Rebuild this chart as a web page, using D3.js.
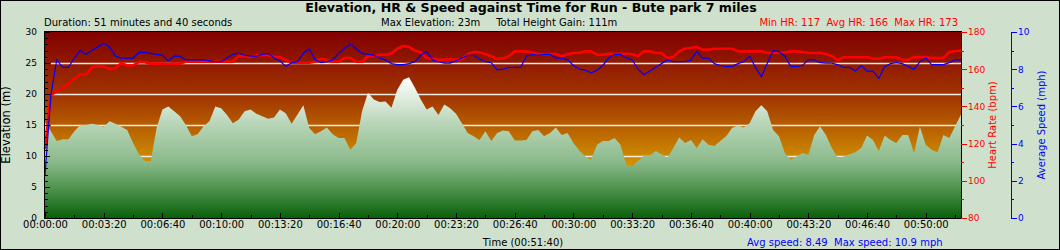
<!DOCTYPE html>
<html>
<head>
<meta charset="utf-8">
<script src="https://cdn.jsdelivr.net/npm/d3@7"></script>
<style>
  body { margin: 0; background: #cfe0cc; }
  svg { display: block; font-family: "DejaVu Sans", Verdana, sans-serif; }
</style>
</head>
<body>
<div id="chart"></div>
<script>
// one reading every 20 seconds
const sampleSeconds = 20;

const elevation = [
  15.5, 14.0, 12.4, 12.7, 12.7, 14.0, 15.0, 15.0, 15.2, 15.0,
  14.7, 15.6, 15.2, 14.7, 14.2, 12.1, 10.3, 9.2, 9.1, 14.5,
  17.5, 18.0, 17.2, 16.4, 15.0, 13.2, 13.5, 14.8, 15.6, 18.0,
  17.7, 16.6, 15.3, 15.9, 17.2, 17.5, 16.8, 16.4, 16.0, 16.2,
  17.5, 16.9, 15.2, 16.7, 18.2, 14.5, 13.5, 14.0, 14.6, 13.5,
  12.9, 12.9, 11.0, 12.1, 17.2, 20.2, 19.1, 18.7, 18.8, 17.8,
  20.7, 22.3, 22.7, 21.0, 19.1, 17.5, 18.0, 16.6, 18.3, 17.7,
  16.8, 15.3, 13.7, 13.2, 12.6, 14.0, 12.4, 13.7, 14.1,
  14.0, 12.5, 12.5, 12.6, 14.0, 14.2, 13.2, 13.7, 14.6, 13.4,
  13.7, 12.1, 10.9, 9.9, 9.4, 11.8, 12.4, 12.4, 12.9, 11.8,
  8.6, 8.3, 9.2, 10.1, 10.1, 10.8, 10.3, 9.7, 11.3, 13.0,
  12.1, 12.6, 11.3, 12.7, 11.8, 11.6, 12.4, 13.2, 14.5, 14.9,
  14.6, 15.3, 17.2, 18.2, 17.2, 14.2, 13.2, 10.5, 9.4, 9.9,
  10.5, 10.2, 13.4, 14.8, 13.4, 11.3, 9.7, 9.9, 10.3, 10.6,
  11.3, 13.3, 12.6, 10.8, 13.3, 12.6, 12.1, 13.4, 13.4, 10.5,
  14.7, 11.8, 11.0, 10.6, 13.4, 12.9, 14.8, 16.7
];

const heartRate = [
  117, 146, 148, 150, 152, 155, 157, 157, 161, 161.5,
  161.5, 160, 160.5, 163.3, 162, 162, 163.8, 163.8, 163, 163,
  163, 162.8, 163, 163, 164, 164, 164, 164, 164, 164,
  164, 164, 164, 167, 167, 166.5, 167.5, 167.5, 167.5, 166.5,
  166.5, 165, 163.5, 163.5, 163.5, 163.5, 164, 165.6, 165, 164,
  164, 166, 166, 164, 164, 167, 167, 167.8, 167.8, 168.5,
  171, 172.5, 172, 170, 169, 166, 165.5, 165, 165, 165.5,
  165, 165.5, 168.2, 169.2, 169, 168.2, 167, 165.5, 165.8,
  167, 169.6, 169.6, 169.6, 169, 168.2, 168.2, 168.2, 168.2, 167,
  168, 168.7, 168.7, 169.6, 169.6, 167.8, 167.8, 168.3, 168.3, 168.3,
  168.3, 168, 167, 169.6, 169.6, 168.7, 168.7, 166, 166.5, 169.6,
  171, 171.4, 172, 170.5, 170.5, 171, 171, 171, 171, 169.6,
  169.6, 169.6, 169.6, 169.6, 168.7, 168.7, 169, 169, 169.6, 169.6,
  169.2, 168.7, 168.7, 168.7, 168.2, 167, 164.8, 166.4, 166.4, 166.4,
  166.4, 166.4, 165.6, 165.6, 166.4, 166.4, 166.4, 165, 165, 166.5,
  166.5, 166.5, 166, 166, 166, 169.2, 169.8, 169.8
];

const speed = [
  2.3, 6.6, 8.5, 8.1, 8.1, 8.6, 9.0, 8.8, 9.0, 9.2,
  9.4, 9.2, 8.7, 8.6, 8.6, 8.6, 8.9, 8.9, 8.85, 8.8,
  8.75, 8.45, 8.7, 8.7, 8.5, 8.5, 8.5, 8.5, 8.45, 8.4,
  8.4, 8.6, 8.8, 8.87, 8.75, 8.7, 8.7, 8.8, 8.85, 8.6,
  8.45, 8.15, 8.35, 8.4, 8.85, 9.1, 8.5, 8.35, 8.4, 8.5,
  8.85, 9.1, 9.35, 9.1, 8.85, 8.8, 8.75, 8.6, 8.5, 8.3,
  8.25, 8.25, 8.3, 8.4, 8.75, 8.95, 8.5, 8.4, 8.33, 8.33,
  8.45, 8.6, 8.75, 8.75, 8.55, 8.4, 8.35, 7.97, 8.0,
  8.1, 8.1, 8.1, 8.7, 8.8, 8.75, 8.8, 8.8, 8.6, 8.6,
  8.5, 8.2, 8.0, 7.95, 7.8, 7.95, 8.2, 8.6, 8.8, 8.8,
  8.6, 8.5, 8.0, 7.7, 7.9, 8.1, 8.3, 8.5, 8.4, 8.4,
  8.4, 8.5, 8.95, 8.6, 8.6, 8.3, 8.2, 8.15, 8.15, 8.3,
  8.4, 8.7, 8.1, 7.6, 8.3, 9.0, 8.95, 8.7, 8.15, 8.15,
  8.2, 8.5, 8.5, 8.35, 8.33, 8.33, 8.25, 8.1, 8.1, 7.9,
  8.2, 7.9, 7.9, 7.5, 8.15, 8.3, 8.35, 8.3, 8.15, 8.0,
  8.4, 8.6, 8.25, 8.25, 8.25, 8.35, 8.5, 8.5
];

const timeTicks = d3.range(0, 3001, 200);
const timeMinorTicks = d3.range(100, 3101, 200);
const elevationTicks = [0, 5, 10, 15, 20, 25, 30];
const heartRateTicks = [80, 100, 120, 140, 160, 180];
const speedTicks = [0, 2, 4, 6, 8, 10];
const gridValues = [5, 10, 15, 20, 25];

const titleText = "Elevation, HR & Speed against Time for Run - Bute park 7 miles";
const durationText = "Duration: 51 minutes and 40 seconds";
const elevationStatsText = "Max Elevation: 23m\u00a0\u00a0\u00a0\u00a0\u00a0Total Height Gain: 111m";
const heartRateStatsText = "Min HR: 117\u00a0\u00a0Avg HR: 166\u00a0\u00a0Max HR: 173";
const speedStatsText = "Avg speed: 8.49\u00a0\u00a0Max speed: 10.9 mph";
const timeTitleText = "Time (00:51:40)";

const width = 1060;
const height = 250;
const margin = { top: 32, right: 99, bottom: 32, left: 45 };
const innerWidth = width - margin.left - margin.right;
const innerHeight = height - margin.top - margin.bottom;
const fontFamily = "\"DejaVu Sans\", Verdana, sans-serif";

function formatTime(seconds) {
  const h = Math.floor(seconds / 3600);
  const m = Math.floor((seconds % 3600) / 60);
  const s = seconds % 60;
  return [h, m, s].map((v) => String(v).padStart(2, "0")).join(":");
}

const svg = d3.select("#chart")
  .append("svg")
  .attr("width", width)
  .attr("height", height);

svg.append("rect")
  .attr("x", 0.5)
  .attr("y", 0.5)
  .attr("width", width - 1)
  .attr("height", height - 1)
  .attr("fill", "#cfe0cc")
  .attr("stroke", "#000");

const defs = svg.append("defs");

const bgGradient = defs.append("linearGradient")
  .attr("id", "plot-bg")
  .attr("x1", 0).attr("y1", 0).attr("x2", 0).attr("y2", 1);
[["0%", "#820000"], ["35%", "#a23600"], ["70%", "#d09000"], ["100%", "#e2b400"]]
  .forEach(([offset, color]) => bgGradient.append("stop").attr("offset", offset).attr("stop-color", color));

const x = d3.scaleLinear().domain([0, 3120]).range([0, innerWidth]);
const yElevation = d3.scaleLinear().domain([0, 30]).range([innerHeight, 0]);
const yHeartRate = d3.scaleLinear().domain([80, 180]).range([innerHeight, 0]);
const ySpeed = d3.scaleLinear().domain([0, 10]).range([innerHeight, 0]);

const areaGradient = defs.append("linearGradient")
  .attr("id", "elevation-fill")
  .attr("gradientUnits", "userSpaceOnUse")
  .attr("x1", 0).attr("x2", 0)
  .attr("y1", yElevation(d3.max(elevation)))
  .attr("y2", innerHeight);
[["0%", "#ffffff"], ["34%", "#b6d4b6"], ["60%", "#8bba8b"], ["80%", "#4a914a"], ["100%", "#0a600a"]]
  .forEach(([offset, color]) => areaGradient.append("stop").attr("offset", offset).attr("stop-color", color));

const chart = svg.append("g")
  .attr("transform", `translate(${margin.left},${margin.top})`);

chart.append("rect")
  .attr("width", innerWidth)
  .attr("height", innerHeight)
  .attr("fill", "url(#plot-bg)");

chart.append("g")
  .selectAll("line")
  .data(gridValues)
  .join("line")
  .attr("x1", 6)
  .attr("x2", innerWidth)
  .attr("y1", (d) => Math.round(yElevation(d)) + 0.5)
  .attr("y2", (d) => Math.round(yElevation(d)) + 0.5)
  .attr("stroke", "#f1ece6")
  .attr("stroke-width", 1.3);

chart.append("path")
  .datum(elevation)
  .attr("fill", "url(#elevation-fill)")
  .attr("d", d3.area()
    .x((d, i) => x(i * sampleSeconds))
    .y0(innerHeight)
    .y1((d) => yElevation(d)));

chart.append("path")
  .datum(heartRate)
  .attr("fill", "none")
  .attr("stroke", "#ff0000")
  .attr("stroke-width", 2.6)
  .attr("stroke-linejoin", "round")
  .attr("d", d3.line()
    .x((d, i) => x(i * sampleSeconds))
    .y((d) => yHeartRate(d)));

chart.append("path")
  .datum(speed)
  .attr("fill", "none")
  .attr("stroke", "#0000ff")
  .attr("stroke-width", 1.2)
  .attr("d", d3.line()
    .x((d, i) => x(i * sampleSeconds))
    .y((d) => ySpeed(d)));

chart.append("rect")
  .attr("x", -0.5)
  .attr("y", -0.5)
  .attr("width", innerWidth + 1)
  .attr("height", innerHeight + 1)
  .attr("fill", "none")
  .attr("stroke", "#000");

function styleAxis(g, color, fontSize) {
  g.select(".domain").remove();
  g.selectAll("line").attr("stroke", color).attr("shape-rendering", "crispEdges");
  g.selectAll("text")
    .attr("fill", color)
    .style("font-size", fontSize || "9px")
    .style("font-family", fontFamily);
}

// elevation axis (ticks point into the plot)
chart.append("g")
  .call(d3.axisLeft(yElevation).tickValues(elevationTicks).tickSizeInner(-5).tickSizeOuter(0).tickPadding(8))
  .call((g) => styleAxis(g, "#000"));
chart.append("g")
  .call(d3.axisLeft(yElevation).tickValues(d3.range(1, 30).filter((v) => v % 5 !== 0)).tickSizeInner(-3).tickSizeOuter(0).tickFormat(""))
  .call((g) => styleAxis(g, "#000"));

// time axis
chart.append("g")
  .attr("transform", `translate(0,${innerHeight})`)
  .call(d3.axisBottom(x).tickValues(timeTicks).tickSizeInner(-5).tickSizeOuter(0).tickPadding(3).tickFormat(formatTime))
  .call((g) => styleAxis(g, "#000", "10px"));
chart.append("g")
  .attr("transform", `translate(0,${innerHeight})`)
  .call(d3.axisBottom(x).tickValues(timeMinorTicks).tickSizeInner(-3).tickSizeOuter(0).tickFormat(""))
  .call((g) => styleAxis(g, "#000"));

// heart rate axis
chart.append("g")
  .attr("transform", `translate(${innerWidth},0)`)
  .call(d3.axisRight(yHeartRate).tickValues(heartRateTicks).tickSizeInner(6).tickSizeOuter(0).tickPadding(1))
  .call((g) => styleAxis(g, "#ff0000"));
chart.append("g")
  .attr("transform", `translate(${innerWidth},0)`)
  .call(d3.axisRight(yHeartRate).tickValues([90, 110, 130, 150, 170]).tickSizeInner(3).tickSizeOuter(0).tickFormat(""))
  .call((g) => styleAxis(g, "#ff0000"));

// speed axis
const speedAxis = chart.append("g")
  .attr("transform", `translate(${innerWidth + 50},0)`)
  .call(d3.axisRight(ySpeed).tickValues(speedTicks).tickSizeInner(6).tickSizeOuter(6).tickPadding(1));
speedAxis.select(".domain").attr("stroke", "#0000ff").attr("shape-rendering", "crispEdges");
speedAxis.selectAll("line").attr("stroke", "#0000ff").attr("shape-rendering", "crispEdges");
speedAxis.selectAll("text").attr("fill", "#0000ff").style("font-size", "9px")
  .style("font-family", fontFamily);
chart.append("g")
  .attr("transform", `translate(${innerWidth + 50},0)`)
  .call(d3.axisRight(ySpeed).tickValues([1, 3, 5, 7, 9]).tickSizeInner(3).tickSizeOuter(0).tickFormat(""))
  .call((g) => styleAxis(g, "#0000ff"));

// axis titles
svg.append("text")
  .attr("transform", `translate(10,${margin.top + innerHeight / 2}) rotate(-90)`)
  .attr("text-anchor", "middle")
  .style("font-size", "11.5px")
  .text("Elevation (m)");

svg.append("text")
  .attr("transform", `translate(996,${margin.top + innerHeight / 2}) rotate(-90)`)
  .attr("text-anchor", "middle")
  .attr("fill", "#ff0000")
  .style("font-size", "10px")
  .text("Heart Rate (bpm)");

svg.append("text")
  .attr("transform", `translate(1045,${margin.top + innerHeight / 2}) rotate(-90)`)
  .attr("text-anchor", "middle")
  .attr("fill", "#0000ff")
  .style("font-size", "10px")
  .text("Average Speed (mph)");

// title and summary texts
svg.append("text")
  .attr("x", 531)
  .attr("y", 12)
  .attr("text-anchor", "middle")
  .style("font-size", "12.6px")
  .style("font-weight", "bold")
  .text(titleText);

svg.append("text")
  .attr("x", 44)
  .attr("y", 26)
  .style("font-size", "10px")
  .text(durationText);

svg.append("text")
  .attr("x", 381)
  .attr("y", 26)
  .style("font-size", "10px")
  .text(elevationStatsText);

svg.append("text")
  .attr("x", 958)
  .attr("y", 26)
  .attr("text-anchor", "end")
  .attr("fill", "#ff0000")
  .style("font-size", "10px")
  .text(heartRateStatsText);

svg.append("text")
  .attr("x", 523)
  .attr("y", 246)
  .attr("text-anchor", "middle")
  .style("font-size", "10px")
  .text(timeTitleText);

svg.append("text")
  .attr("x", 747)
  .attr("y", 246)
  .attr("fill", "#0000ff")
  .style("font-size", "10px")
  .text(speedStatsText);
</script>
</body>
</html>
